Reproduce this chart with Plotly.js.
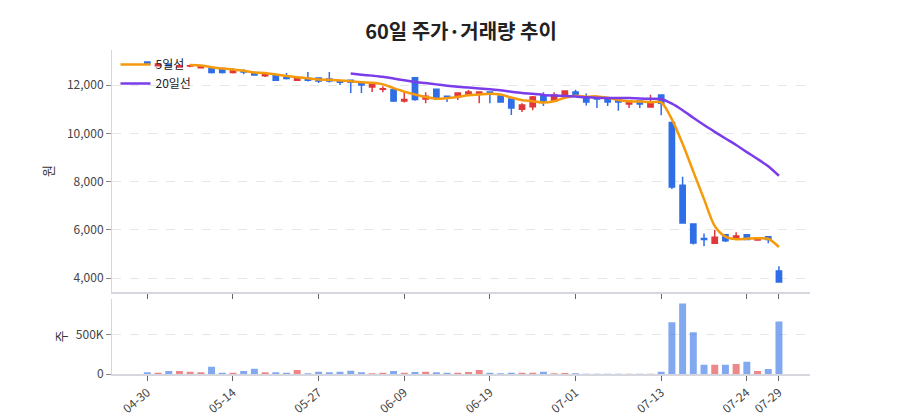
<!DOCTYPE html>
<html>
<head>
<meta charset="utf-8">
<script src="https://cdn.plot.ly/plotly-3.0.1.min.js"></script>
<style>
  html, body { margin: 0; padding: 0; background: #fff; }
  #chart { width: 900px; height: 420px; }
</style>
</head>
<body>
<div id="chart"></div>
<script>
var dates = ['04-30','05-04','05-06','05-07','05-08','05-11','05-12','05-13','05-14','05-15',
  '05-18','05-19','05-20','05-21','05-22','05-26','05-27','05-28','05-29','06-01',
  '06-02','06-04','06-05','06-08','06-09','06-10','06-11','06-12','06-15','06-16',
  '06-17','06-18','06-19','06-22','06-23','06-24','06-25','06-26','06-29','06-30',
  '07-01','07-02','07-03','07-06','07-07','07-08','07-09','07-10','07-13','07-14',
  '07-15','07-16','07-20','07-21','07-22','07-23','07-24','07-27','07-28','07-29'];

var opens = [12950,12800,12870,12750,12790,12720,12700,12680,12520,12580,
  12520,12380,12410,12300,12200,12280,12290,12250,12170,12200,
  12080,11920,11820,11800,11340,12300,11420,11830,11540,11500,
  11590,11630,11710,11550,11420,11000,11100,11580,11340,11550,
  11710,11500,11460,11460,11380,11210,11340,11090,11590,10450,
  7850,6250,5650,5450,5800,5620,5800,5580,5720,4300];
var highs = [12980,12900,12900,12850,12850,12820,12720,12720,12700,12650,
  12550,12480,12420,12500,12300,12540,12300,12540,12200,12220,
  12100,12080,11950,11820,11700,12330,11700,11830,11560,11700,
  11790,11720,11720,11560,11450,11250,11550,11700,11700,11780,
  11800,11650,11480,11480,11400,11380,11360,11600,11600,10470,
  8200,6260,5850,6000,5820,5900,5810,5700,5740,4500];
var lows = [12850,12780,12780,12720,12740,12700,12480,12480,12480,12450,
  12400,12330,12180,12230,12180,12150,12080,12100,12000,11670,
  11670,11710,11700,11300,11280,11350,11250,11400,11300,11380,
  11550,11250,11250,11280,10760,10880,10960,11130,11300,11530,
  11570,11150,11050,11130,10930,11050,11050,11080,10750,7700,
  6270,5400,5330,5450,5500,5600,5580,5560,5450,3850];
var closes = [12870,12870,12800,12800,12800,12780,12520,12520,12580,12540,
  12420,12430,12200,12270,12280,12200,12170,12170,12120,12120,
  12000,12050,11850,11340,11400,11400,11540,11460,11480,11670,
  11710,11710,11630,11300,11050,11170,11500,11340,11590,11750,
  11590,11300,11420,11300,11300,11340,11210,11300,11250,7780,
  6290,5460,5600,5700,5550,5750,5600,5680,5600,3850];

var ma5 = [null,null,null,null,12828,12810,12740,12684,12640,12588,
  12516,12498,12434,12372,12320,12276,12224,12218,12188,12156,
  12116,12092,12028,11872,11728,11608,11506,11428,11456,11510,
  11572,11606,11640,11604,11480,11372,11330,11272,11330,11470,
  11554,11514,11530,11472,11382,11332,11314,11290,11280,10576,
  9566,8416,7276,6166,5720,5612,5640,5656,5636,5296];
var ma20 = [null,null,null,null,null,null,null,null,null,null,
  null,null,null,null,null,null,null,null,null,12473,
  12430,12389,12341,12268,12198,12129,12080,12027,11972,11929,
  11893,11857,11829,11780,11719,11667,11634,11592,11566,11547,
  11527,11489,11468,11466,11461,11458,11441,11433,11422,11227,
  10956,10644,10342,10062,9787,9516,9221,8938,8639,8244];

var volumes = [21000,17000,37000,37000,29000,21000,92000,17000,17000,37000,
  67000,21000,21000,17000,50000,8000,29000,21000,29000,42000,
  21000,8000,17000,37000,17000,25000,29000,21000,17000,17000,
  25000,50000,17000,8000,17000,17000,17000,29000,8000,12000,
  8000,4000,4000,4000,4000,4000,4000,4000,29000,654000,
  892000,529000,117000,117000,117000,125000,154000,37000,62000,662000];

var tickDates = ['04-30','05-14','05-27','06-09','06-19','07-01','07-13','07-24','07-29'];

var UP = '#e0383a';
var DOWN = '#2f6ee6';
var FONT = '"Noto Sans CJK KR", "Noto Sans", sans-serif';

var volColors = closes.map(function(c, i) {
  return c >= opens[i] ? 'rgba(224,56,58,0.6)' : 'rgba(47,110,230,0.6)';
});

var candle = {
  x: dates, open: opens, high: highs, low: lows, close: closes,
  type: 'candlestick',
  xaxis: 'x2', yaxis: 'y2',
  increasing: {line: {color: UP, width: 1.5}, fillcolor: UP},
  decreasing: {line: {color: DOWN, width: 1.5}, fillcolor: DOWN},
  whiskerwidth: 0,
  showlegend: false,
  hoverinfo: 'x+y'
};

var line5 = {
  x: dates, y: ma5, type: 'scatter', mode: 'lines', name: '5일선',
  xaxis: 'x2', yaxis: 'y2',
  line: {color: '#f59a0c', width: 2.5, shape: 'spline', smoothing: 0.8}
};

var line20 = {
  x: dates, y: ma20, type: 'scatter', mode: 'lines', name: '20일선',
  xaxis: 'x2', yaxis: 'y2',
  line: {color: '#7b3cea', width: 2.5, shape: 'spline', smoothing: 0.6}
};

var vol = {
  x: dates, y: volumes, type: 'bar',
  xaxis: 'x', yaxis: 'y',
  marker: {color: volColors},
  showlegend: false
};

var xRange = [-3.3, 61.9];

var layout = {
  width: 900, height: 420,
  margin: {l: 112, r: 90, t: 50, b: 46},
  paper_bgcolor: '#fff', plot_bgcolor: '#fff',
  font: {family: FONT, size: 12, color: '#333'},
  title: {text: '<b>60일 주가·거래량 추이</b>', xref: 'paper', x: 0.5, xanchor: 'center',
    y: 0.925, yanchor: 'middle', font: {size: 20, color: '#222', family: FONT}},
  showlegend: true,
  legend: {x: 0.005, y: 1.0, xanchor: 'left', yanchor: 'top',
    bgcolor: 'rgba(255,255,255,0)', font: {size: 12, color: '#222'},
    tracegroupgap: 2},
  bargap: 0.35,
  xaxis: {
    type: 'category', anchor: 'y', domain: [0, 1], range: xRange,
    tickvals: tickDates, ticktext: tickDates, tickangle: -40,
    ticks: 'outside', ticklen: 5, tickcolor: '#666',
    showgrid: false, showline: true, linecolor: '#d6d6de', linewidth: 2,
    tickfont: {size: 12, color: '#444'}
  },
  xaxis2: {
    type: 'category', anchor: 'y2', matches: 'x', range: xRange,
    tickvals: tickDates, showticklabels: false,
    ticks: 'outside', ticklen: 5, tickcolor: '#666',
    showgrid: false, showline: true, linecolor: '#d6d6de', linewidth: 2,
    rangeslider: {visible: false}
  },
  yaxis: {
    domain: [0, 0.232], range: [0, 950000],
    tickvals: [0, 500000], ticktext: ['0', '500K'],
    ticks: 'outside', ticklen: 5, tickcolor: '#888',
    showgrid: true, gridcolor: '#e6e6e6', griddash: 'dash',
    zeroline: false, showline: true, linecolor: '#d6d6de', linewidth: 1,
    title: {text: '주', font: {size: 13, color: '#333'}, standoff: 6},
    tickfont: {size: 12, color: '#444'}
  },
  yaxis2: {
    domain: [0.253, 1], range: [3430, 13450],
    tickvals: [4000, 6000, 8000, 10000, 12000], tickformat: ',d',
    ticks: 'outside', ticklen: 5, tickcolor: '#888',
    showgrid: true, gridcolor: '#e6e6e6', griddash: 'dash',
    zeroline: false, showline: true, linecolor: '#d6d6de', linewidth: 1,
    title: {text: '원', font: {size: 13, color: '#333'}, standoff: 10},
    tickfont: {size: 12, color: '#444'}
  }
};

Plotly.newPlot('chart', [vol, candle, line5, line20], layout, {displayModeBar: false, staticPlot: true});
</script>
</body>
</html>
